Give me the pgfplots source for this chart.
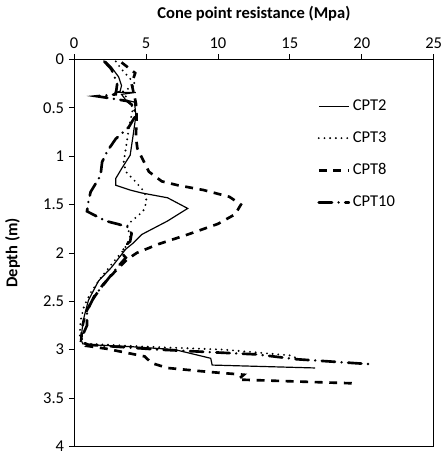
\documentclass[border=0pt]{standalone}
\usepackage{fontspec}
\setmainfont{Carlito}
\usepackage{pgfplots}
\pgfplotsset{compat=1.18}

\begin{document}
\begin{tikzpicture}
\begin{axis}[
    scale only axis,
    width=272pt, height=292.5pt,
    xmin=0, xmax=25, ymin=0, ymax=4,
    y dir=reverse,
    xtick={0,5,...,25},
    ytick={0,0.5,...,4},
    xtick pos=upper, xticklabel pos=upper,
    ytick pos=left,
    tick align=outside,
    major tick length=4pt,
    tick style={black, line width=0.6pt},
    axis line style={black, line width=0.8pt},
    /pgf/number format/assume math mode=true,
    ticklabel style={font=\fontsize{12.5}{14}\selectfont},
    xticklabel style={yshift=1pt},
    xlabel={\textbf{Cone point resistance (Mpa)}},
    ylabel={\textbf{Depth (m)}},
    label style={font=\fontsize{12.5}{14}\selectfont},
    xlabel style={at={(axis description cs:0.5,1.118)}, anchor=center},
    ylabel style={at={(axis description cs:-0.171,0.5)}, anchor=center},
    legend style={draw=none, fill=none, at={(0.665,0.91)}, anchor=north west,
      font=\fontsize{12.5}{14}\selectfont, row sep=10.5pt},
    legend cell align=left,
    legend image code/.code={\draw[#1] (0cm,0cm) -- (0.8cm,0cm);},
]
% CPT2
\addplot[black, line width=0.9pt] coordinates {
(2.2,0.02) (2.6,0.08) (3.1,0.18) (3.3,0.27) (3.2,0.33) (2.8,0.34) (4.3,0.34)
(3.3,0.36) (3.6,0.42) (4.2,0.44) (4.3,0.58) (4.1,0.79) (3.9,0.99) (3.3,1.13)
(2.9,1.23) (2.9,1.30) (3.9,1.35) (4.7,1.38) (6.5,1.43) (7.9,1.54) (6.5,1.67)
(4.7,1.81) (4.1,1.9) (3.6,1.96) (2.6,2.15) (1.7,2.29) (1.0,2.49) (0.7,2.66)
(0.55,2.8) (0.5,2.9) (0.6,2.94) (1.2,2.95) (4.0,2.97) (7.0,3.0) (9.5,3.09)
(9.6,3.16) (16.75,3.19)};
\addlegendentry{CPT2}
% CPT3
\addplot[black, line width=1.6pt, line cap=round, dash pattern=on 0pt off 4.3pt] coordinates {
(2.9,0.02) (3.3,0.1) (3.9,0.2) (4.3,0.26) (3.4,0.33) (3.7,0.41) (4.1,0.5)
(3.8,0.72) (3.6,0.92) (3.45,1.06) (3.6,1.16) (4.25,1.26) (4.9,1.37) (5.05,1.47)
(4.8,1.57) (4.25,1.64) (3.7,1.71) (3.9,1.84) (3.5,1.96) (2.7,2.1) (1.9,2.25)
(1.2,2.4) (0.7,2.55) (0.45,2.7) (0.4,2.85) (0.45,2.92) (1.0,2.94) (5.0,2.97)
(10.4,3.0) (15.0,3.06) (15.7,3.1)};
\addlegendentry{CPT3}
% CPT8
\addplot[black, line width=2pt, dash pattern=on 6pt off 5pt] coordinates {
(3.3,0.03) (4.25,0.14) (4.0,0.25) (4.3,0.45) (4.35,0.6) (4.3,0.8) (4.4,0.92)
(5.2,1.16) (6.1,1.26) (7.2,1.3) (9.0,1.35) (10.8,1.42) (11.6,1.5) (11.2,1.6)
(10.0,1.7) (7.9,1.81) (5.85,1.91) (4.36,2.0) (3.67,2.07) (2.8,2.2) (2.0,2.33)
(1.3,2.48) (0.8,2.62) (0.55,2.78) (0.5,2.9) (0.8,2.96) (2.2,2.99) (4.9,3.07)
(5.4,3.14) (6.5,3.19) (9.3,3.23) (11.8,3.26) (11.4,3.31) (19.6,3.35)};
\addlegendentry{CPT8}
% CPT10
\addplot[black, line width=2pt, line cap=round, dash pattern=on 10pt off 5pt on 0pt off 5pt] coordinates {
(2.1,0.02) (2.6,0.1) (3.0,0.25) (2.9,0.36) (1.6,0.38) (2.9,0.41) (3.7,0.43)
(4.2,0.49) (4.2,0.6) (3.8,0.7) (2.9,0.82) (2.3,0.95) (1.95,1.06) (1.84,1.2)
(1.15,1.37) (1.0,1.47) (0.9,1.57) (2.2,1.67) (3.0,1.7) (3.7,1.73) (4.0,1.8)
(3.9,1.88) (3.6,1.92) (3.3,2.0) (3.6,2.05) (3.0,2.15) (2.2,2.3) (1.4,2.45)
(0.9,2.6) (0.9,2.75) (0.6,2.85) (0.5,2.92) (1.0,2.95) (5.85,3.0) (12.7,3.05)
(15.5,3.1) (18.5,3.13) (20.5,3.15)};
\addlegendentry{CPT10}
\end{axis}
\path ([xshift=-56pt,yshift=-4.5pt]current axis.south west) rectangle ([xshift=7.5pt,yshift=45pt]current axis.north east);
\end{tikzpicture}
\end{document}
